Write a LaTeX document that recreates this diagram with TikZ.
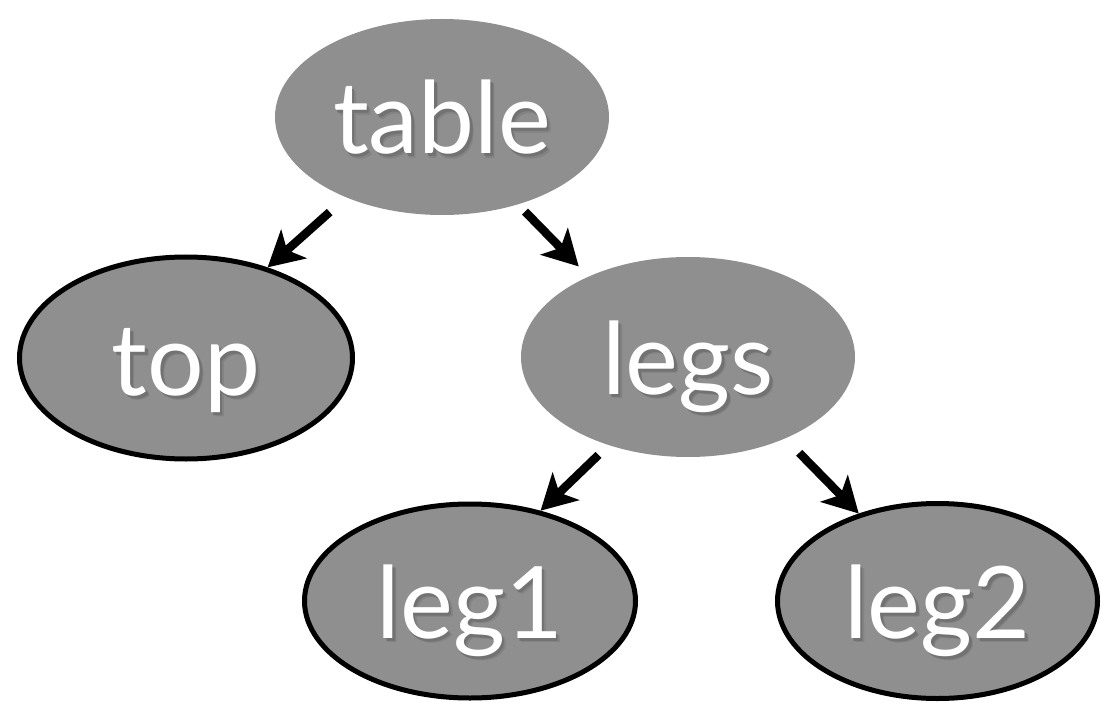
\documentclass[tikz,border=0pt]{standalone}
\usepackage{fontspec}
\setmainfont{Lato}
\usetikzlibrary{arrows.meta,shapes.geometric}

\definecolor{nodegray}{HTML}{8F8F8F}
\definecolor{shadeA}{HTML}{838383}
\definecolor{shadeB}{HTML}{727272}

% white label with a soft dark drop shadow below and to the right
\newcommand\shadowed[1]{%
  \leavevmode
  \rlap{\kern4pt\raisebox{-4.5pt}{\textcolor{shadeA}{#1}}}%
  \rlap{\kern2.5pt\raisebox{-3pt}{\textcolor{shadeB}{#1}}}%
  #1}

\begin{document}
\begin{tikzpicture}[x=1pt,y=-1pt,
  treenode/.style={ellipse, fill=nodegray, inner sep=0pt,
    minimum width=334pt, minimum height=196pt, text=white,
    font=\fontsize{100}{100}\selectfont, text height=74pt, text depth=0pt},
  outlined/.style={draw=black, line width=5pt},
  link/.style={line width=8.5pt, -{Stealth[length=35pt,width=38pt,inset=9pt]}}]

\useasboundingbox (0,0) rectangle (1102,703);

\node[treenode] (table) at (442,117) {\shadowed{table}};
\node[treenode, outlined, minimum width=333pt, minimum height=202pt] (top) at (186,358) {\shadowed{top}};
\node[treenode, minimum height=200pt] (legs) at (688,357) {\shadowed{legs}};
\node[treenode, outlined, minimum width=331pt, minimum height=194pt] (leg1) at (470,601) {\shadowed{leg1}};
\node[treenode, outlined, minimum width=320pt, minimum height=195pt] (leg2) at (937.5,601) {\shadowed{leg2}};

\draw[link, shorten <=22pt] (table.220) -- (top.48);
\draw[link, shorten <=10pt, shorten >=14pt] (table.311) -- (legs.141);
\draw[link, shorten <=14pt] (legs.228) -- (leg1.52);
\draw[link, shorten <=20pt] (legs.320) -- (leg2.132);
\end{tikzpicture}
\end{document}
